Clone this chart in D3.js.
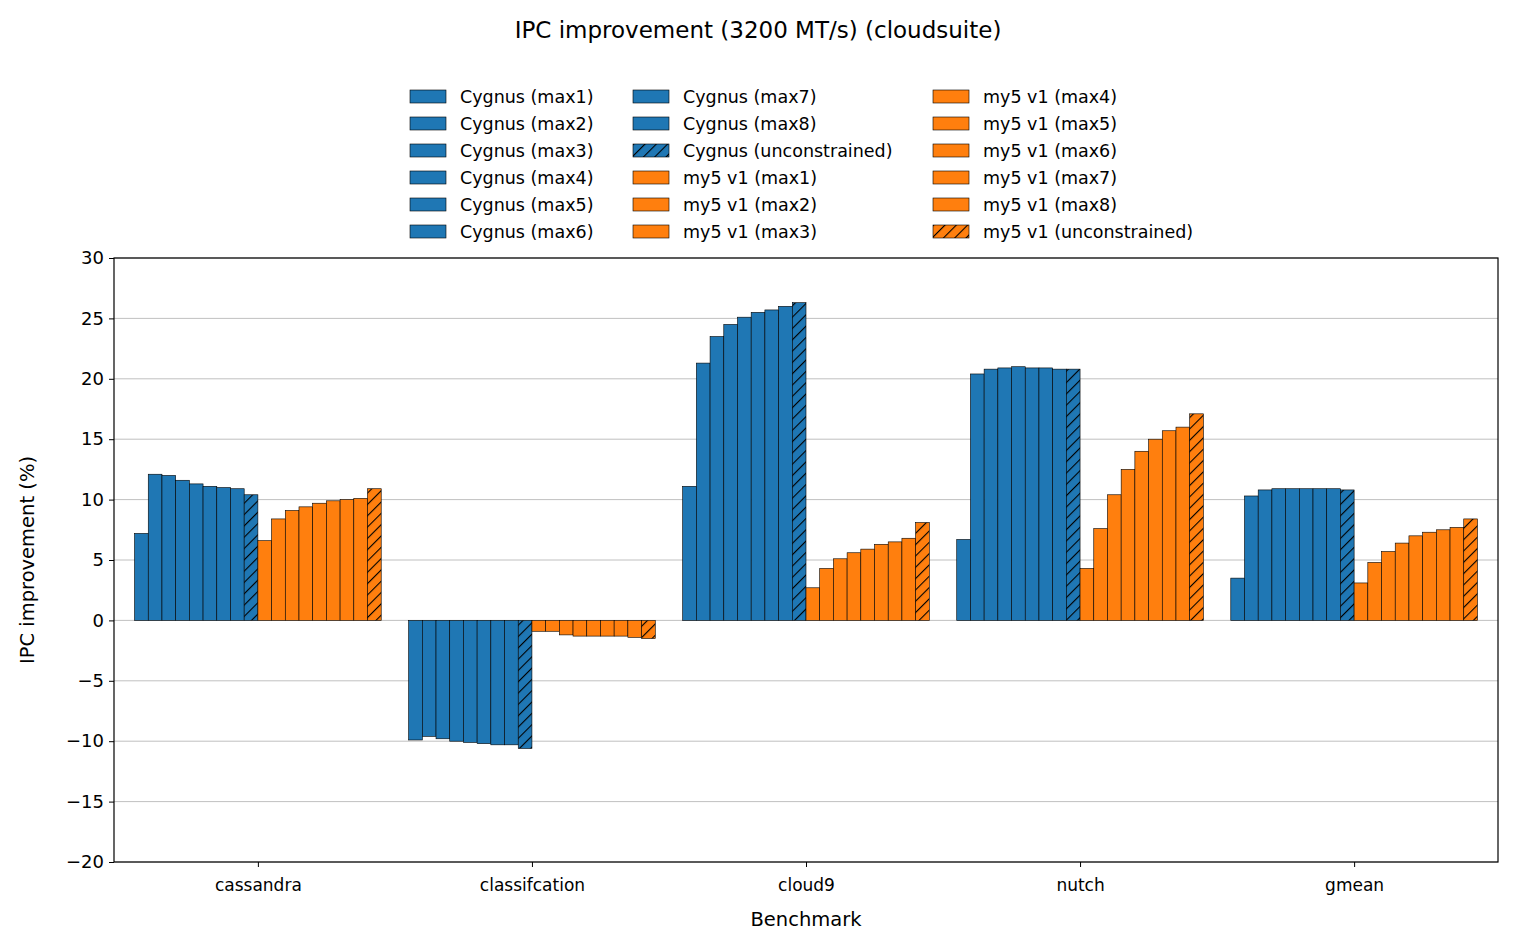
<!DOCTYPE html>
<html>
<head>
<script src="https://cdn.jsdelivr.net/npm/d3@7"></script>
<style>
body { margin: 0; font-family: "DejaVu Sans"; background: #fff; }
</style>
</head>
<body>
<svg id="chart" width="1516" height="950"></svg>
<script>
var benchmarks = ["cassandra", "classifcation", "cloud9", "nutch", "gmean"];
var seriesNames = ["Cygnus (max1)", "Cygnus (max2)", "Cygnus (max3)", "Cygnus (max4)", "Cygnus (max5)", "Cygnus (max6)",
  "Cygnus (max7)", "Cygnus (max8)", "Cygnus (unconstrained)",
  "my5 v1 (max1)", "my5 v1 (max2)", "my5 v1 (max3)", "my5 v1 (max4)", "my5 v1 (max5)", "my5 v1 (max6)",
  "my5 v1 (max7)", "my5 v1 (max8)", "my5 v1 (unconstrained)"];
// one array per benchmark, 18 series each
var cassandra = [7.2, 12.1, 12.0, 11.6, 11.3, 11.1, 11.0, 10.9, 10.4, 6.6, 8.4, 9.1, 9.4, 9.7, 9.9, 10.0, 10.1, 10.9];
var classifcation = [-9.9, -9.6, -9.8, -10.0, -10.1, -10.2, -10.3, -10.3, -10.6, -0.9, -0.9, -1.2, -1.3, -1.3, -1.3, -1.3, -1.4, -1.5];
var cloud9 = [11.1, 21.3, 23.5, 24.5, 25.1, 25.5, 25.7, 26.0, 26.3, 2.7, 4.3, 5.1, 5.6, 5.9, 6.3, 6.5, 6.8, 8.1];
var nutch = [6.7, 20.4, 20.8, 20.9, 21.0, 20.9, 20.9, 20.8, 20.8, 4.3, 7.6, 10.4, 12.5, 14.0, 15.0, 15.7, 16.0, 17.1];
var gmean = [3.5, 10.3, 10.8, 10.9, 10.9, 10.9, 10.9, 10.9, 10.8, 3.1, 4.8, 5.7, 6.4, 7.0, 7.3, 7.5, 7.7, 8.4];
var values = [cassandra, classifcation, cloud9, nutch, gmean];
var yTicks = [-20, -15, -10, -5, 0, 5, 10, 15, 20, 25, 30];

var svg = d3.select("#chart");
var pLeft = 114, pRight = 1498, pTop = 258, pBottom = 862;

var defs = svg.append("defs");
[["hBlue", "#1f77b4"], ["hOrange", "#ff7f0e"]].forEach(function (p) {
  var pat = defs.append("pattern").attr("id", p[0]).attr("patternUnits", "userSpaceOnUse")
    .attr("width", 8).attr("height", 8).attr("patternTransform", "rotate(45)");
  pat.append("rect").attr("width", 8).attr("height", 8).attr("fill", p[1]);
  pat.append("line").attr("x1", 0).attr("y1", 0).attr("x2", 0).attr("y2", 8)
    .attr("stroke", "#000").attr("stroke-width", 2.2);
});
function fillFor(i) {
  if (i === 8) return "url(#hBlue)";
  if (i === 17) return "url(#hOrange)";
  return i < 9 ? "#1f77b4" : "#ff7f0e";
}

// group centres at integer positions, like matplotlib
var xc = d3.scaleLinear().domain([-0.525, 4.525]).range([pLeft, pRight]);
var groupW = 0.9;
var barW = (xc(groupW) - xc(0)) / 18;
var y = d3.scaleLinear().domain([-20, 30]).range([pBottom, pTop]);

svg.append("g").selectAll("line").data(yTicks).join("line")
  .attr("x1", pLeft).attr("x2", pRight).attr("y1", d => y(d)).attr("y2", d => y(d))
  .attr("stroke", "#b0b0b0").attr("stroke-width", 0.8);

benchmarks.forEach(function (b, bi) {
  var x0 = xc(bi - groupW / 2);
  svg.append("g").selectAll("rect").data(values[bi]).join("rect")
    .attr("x", (d, i) => x0 + i * barW)
    .attr("width", barW)
    .attr("y", d => y(Math.max(0, d)))
    .attr("height", d => Math.abs(y(d) - y(0)))
    .attr("fill", (d, i) => fillFor(i))
    .attr("stroke", "#000").attr("stroke-width", 0.6);
});

svg.append("rect").attr("x", pLeft).attr("y", pTop).attr("width", pRight - pLeft).attr("height", pBottom - pTop)
  .attr("fill", "none").attr("stroke", "#000").attr("stroke-width", 1.2);

var ya = svg.append("g").attr("transform", "translate(" + pLeft + ",0)")
  .call(d3.axisLeft(y).tickValues(yTicks).tickSize(5).tickPadding(5).tickFormat(d => d < 0 ? "\u2212" + Math.abs(d) : d));
ya.select(".domain").remove();
ya.selectAll("text").attr("font-size", 18).attr("font-family", "DejaVu Sans").attr("fill", "#000");

var xa = svg.append("g").attr("transform", "translate(0," + pBottom + ")")
  .call(d3.axisBottom(xc).tickValues(d3.range(5)).tickSize(5).tickPadding(12).tickFormat(i => benchmarks[i]));
xa.select(".domain").remove();
xa.selectAll("text").attr("font-size", 17).attr("font-family", "DejaVu Sans").attr("fill", "#000");

svg.append("text").attr("x", 806).attr("y", 926).attr("text-anchor", "middle")
  .attr("font-size", 19.5).text("Benchmark");
svg.append("text").attr("transform", "translate(34," + y(5) + ") rotate(-90)").attr("text-anchor", "middle")
  .attr("font-size", 19.5).text("IPC improvement (%)");
svg.append("text").attr("x", 758).attr("y", 38).attr("text-anchor", "middle")
  .attr("font-size", 23).text("IPC improvement (3200 MT/s) (cloudsuite)");

var colX = [410, 633, 933];
var leg = svg.append("g").selectAll("g").data(seriesNames).join("g")
  .attr("transform", (d, i) => "translate(" + colX[Math.floor(i / 6)] + "," + (90 + (i % 6) * 27) + ")");
leg.append("rect").attr("width", 36).attr("height", 13)
  .attr("fill", (d, i) => fillFor(i)).attr("stroke", "#000").attr("stroke-width", 0.6);
leg.append("text").attr("x", 50).attr("y", 13).attr("font-size", 17.5).text(d => d);
</script>
</body>
</html>
